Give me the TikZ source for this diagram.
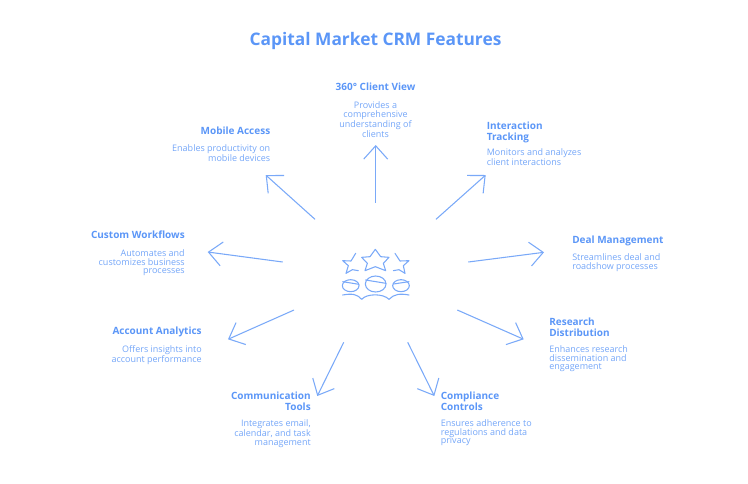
\documentclass[tikz,border=0pt]{standalone}
\usepackage{fontspec}
\setmainfont{Open Sans}
\definecolor{crmblue}{HTML}{5B96F7}
\definecolor{crmline}{HTML}{7AA9F8}
\usetikzlibrary{arrows.meta}
\tikzset{
  crmtitle/.style={font=\fontsize{13}{15}\selectfont\bfseries, text=crmblue, inner sep=0pt},
  feattitle/.style={font=\fontsize{7.5}{7.6}\selectfont\bfseries, text=crmblue, inner sep=0pt},
  featdesc/.style={font=\fontsize{6.75}{6.7}\selectfont, text=crmblue!85, inner sep=0pt},
  featarrow/.style={crmline, line width=0.8pt, -{Straight Barb[length=10pt, width=18pt]}},
  hubline/.style={crmline, line width=0.8pt, line join=round, line cap=round}
}

\begin{document}
\begin{tikzpicture}[x=0.75pt, y=-0.75pt]
  \useasboundingbox (0,0) rectangle (748,483);

  \node[crmtitle] (heading) at (375.5,40.5) {Capital Market CRM Features};

  % features, clockwise from the top
  \node[feattitle, anchor=north] (clientview) at (375.5,83) {360° Client View};
  \node[featdesc, anchor=north, align=center] (clientviewdesc) at (375.5,101) {Provides a\\comprehensive\\understanding of\\clients};

  \node[feattitle, anchor=north west, align=left] (tracking) at (486.5,122) {Interaction\\Tracking};
  \node[featdesc, anchor=north west, align=left] (trackingdesc) at (486.5,148) {Monitors and analyzes\\client interactions};

  \node[feattitle, anchor=north west] (deal) at (572,236) {Deal Management};
  \node[featdesc, anchor=north west, align=left] (dealdesc) at (572,253) {Streamlines deal and\\roadshow processes};

  \node[feattitle, anchor=north west, align=left] (research) at (549,318) {Research\\Distribution};
  \node[featdesc, anchor=north west, align=left] (researchdesc) at (549,345) {Enhances research\\dissemination and\\engagement};

  \node[feattitle, anchor=north west, align=left] (compliance) at (440.5,392) {Compliance\\Controls};
  \node[featdesc, anchor=north west, align=left] (compliancedesc) at (440.5,419) {Ensures adherence to\\regulations and data\\privacy};

  \node[feattitle, anchor=north east, align=right] (commtools) at (311,392) {Communication\\Tools};
  \node[featdesc, anchor=north east, align=right] (commtoolsdesc) at (311,419) {Integrates email,\\calendar, and task\\management};

  \node[feattitle, anchor=north east] (analytics) at (202,327) {Account Analytics};
  \node[featdesc, anchor=north east, align=right] (analyticsdesc) at (202,345) {Offers insights into\\account performance};

  \node[feattitle, anchor=north east] (workflows) at (185,231) {Custom Workflows};
  \node[featdesc, anchor=north east, align=right] (workflowsdesc) at (185,249) {Automates and\\customizes business\\processes};

  \node[feattitle, anchor=north east] (mobile) at (270.5,127) {Mobile Access};
  \node[featdesc, anchor=north east, align=right] (mobiledesc) at (270.5,144) {Enables productivity on\\mobile devices};

  % arrows, each runs from near the hub towards its feature
  \foreach \name/\from/\to in {
    clientview/{375.7,202.7}/{375.7,145},
    tracking/{436,219.3}/{485.7,175},
    deal/{468.3,262}/{544,252.3},
    research/{457.3,310}/{523.7,339.3},
    compliance/{407.7,342.3}/{434.3,396},
    commtools/{343.7,342.3}/{317.3,396},
    analytics/{294,310}/{228,339.3},
    workflows/{282.7,262}/{207.7,252},
    mobile/{315,219.3}/{265.7,175}}
  {
    \coordinate (\name start) at (\from);
    \coordinate (\name end) at (\to);
    \draw[featarrow] (\name start) -- (\name end);
  }

  % hub icon: three stars over three people
  \begin{scope}[shift={(320,230)}, x=0.25pt, y=-0.25pt]
    \draw[hubline] (166,58) -- (182,80) -- (207,82) -- (190,100) -- (197,122) -- (166,110) -- (135,122) -- (142,100) -- (125,82) -- (150,80) -- cycle;
    \draw[hubline] (107,70) -- (93,93) -- (68,92) -- (85,107) -- (78,130) -- (97,119) -- (115,122);
    \draw[hubline] (225,70) -- (240,93) -- (267,92) -- (250,107) -- (255,130) -- (237,119) -- (220,122);
    \draw[hubline] (92,167) circle[x radius=25, y radius=18];
    \draw[hubline] (167,162) circle[x radius=31, y radius=24];
    \draw[hubline] (243,167) circle[x radius=25, y radius=18];
    \draw[hubline] (68,155) -- (117,163);
    \draw[hubline] (137,150) -- (198,160);
    \draw[hubline] (220,162) -- (267,155);
    \draw[hubline] (68,195) .. controls (95,190) and (112,192) .. (125,208) .. controls (140,190) and (190,190) .. (207,208) .. controls (222,192) and (240,190) .. (267,195);
  \end{scope}
\end{tikzpicture}
\end{document}
